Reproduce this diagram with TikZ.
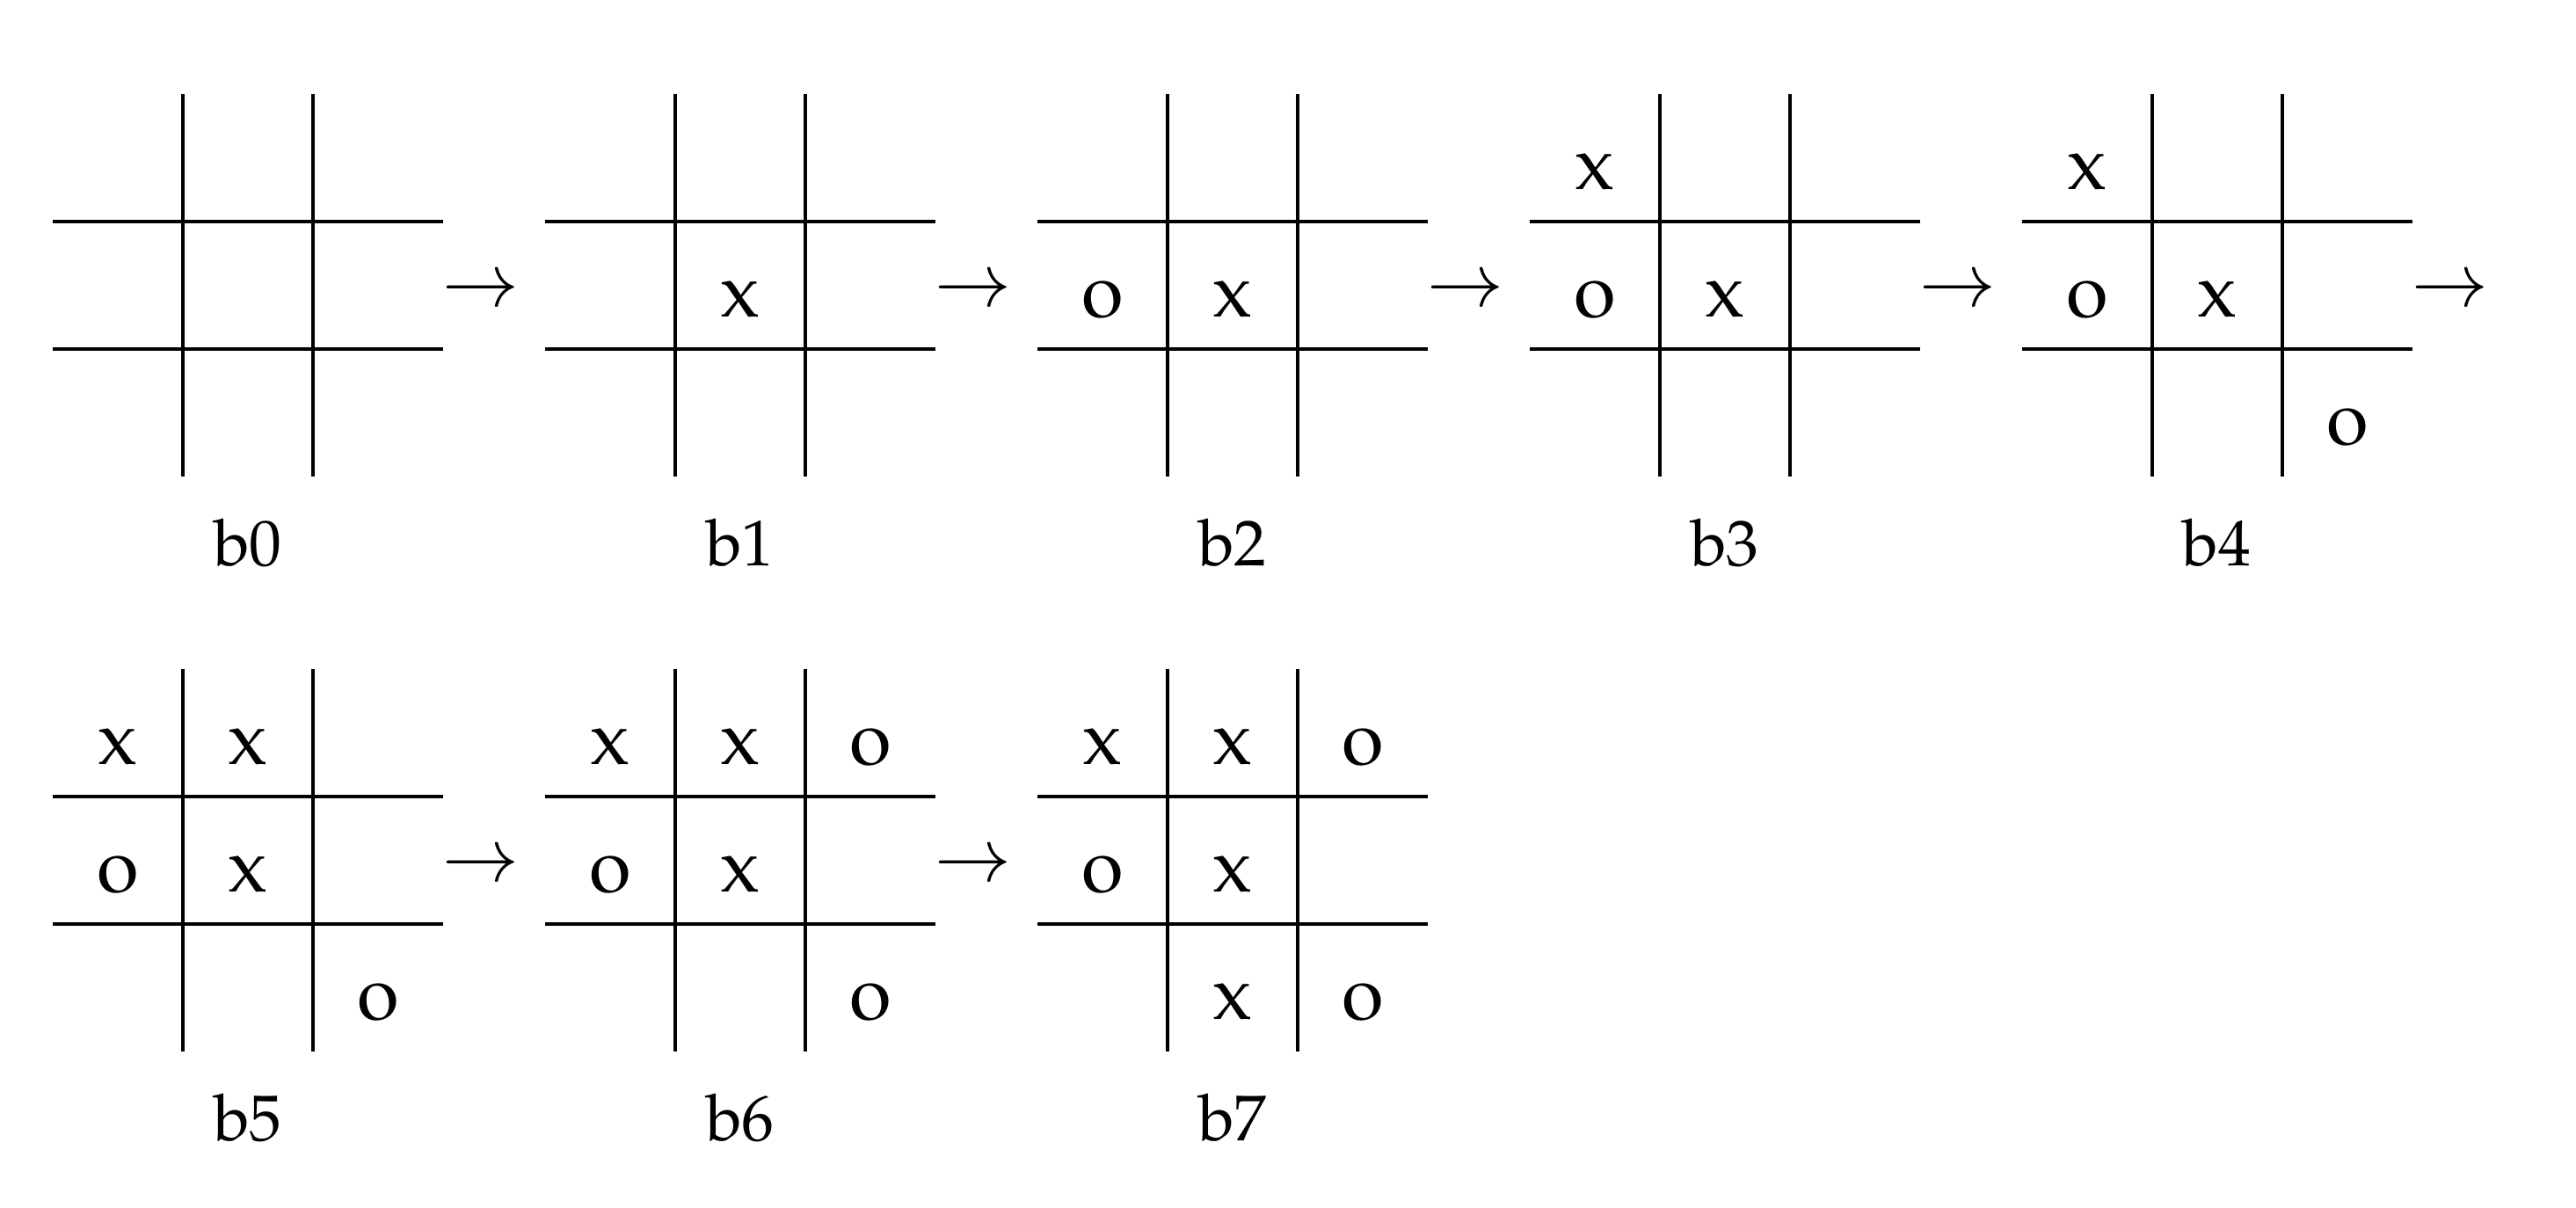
\documentclass[tikz,border=0pt]{standalone}
\usepackage{amssymb}
\usepackage{amsmath}
\usepackage[T1]{fontenc}
\usepackage{palatino}
\usepackage{tikz}

\begin{document}
\begin{tikzpicture}[x=0.6cm,y=0.588cm,
  cellmark/.style={anchor=base,inner sep=0pt},
  boardlabel/.style={anchor=base,inner sep=0pt,font=\fontsize{8.5}{10}\selectfont},
  movearrow/.style={anchor=center,inner sep=0pt}]
\useasboundingbox (-0.243cm,-3.373cm) rectangle (11.635cm,2.197cm);

% b0
\begin{scope}[xshift=0cm]
\draw (1,0) -- (1,3);
\draw (2,0) -- (2,3);
\draw (0,1) -- (3,1);
\draw (0,2) -- (3,2);
\node[boardlabel] (lab0) at (1.5,-0.7) {b0};
\node[movearrow] (arr0) at (3.29,1.44) {$\rightarrow$};
\end{scope}

% b1
\begin{scope}[xshift=2.27cm]
\draw (1,0) -- (1,3);
\draw (2,0) -- (2,3);
\draw (0,1) -- (3,1);
\draw (0,2) -- (3,2);
\node[cellmark] (b1mm) at (1.5,1.25) {x};
\node[boardlabel] (lab1) at (1.5,-0.7) {b1};
\node[movearrow] (arr1) at (3.29,1.44) {$\rightarrow$};
\end{scope}

% b2
\begin{scope}[xshift=4.54cm]
\draw (1,0) -- (1,3);
\draw (2,0) -- (2,3);
\draw (0,1) -- (3,1);
\draw (0,2) -- (3,2);
\node[cellmark] (b2ml) at (0.5,1.25) {o};
\node[cellmark] (b2mm) at (1.5,1.25) {x};
\node[boardlabel] (lab2) at (1.5,-0.7) {b2};
\node[movearrow] (arr2) at (3.29,1.44) {$\rightarrow$};
\end{scope}

% b3
\begin{scope}[xshift=6.81cm]
\draw (1,0) -- (1,3);
\draw (2,0) -- (2,3);
\draw (0,1) -- (3,1);
\draw (0,2) -- (3,2);
\node[cellmark] (b3tl) at (0.5,2.25) {x};
\node[cellmark] (b3ml) at (0.5,1.25) {o};
\node[cellmark] (b3mm) at (1.5,1.25) {x};
\node[boardlabel] (lab3) at (1.5,-0.7) {b3};
\node[movearrow] (arr3) at (3.29,1.44) {$\rightarrow$};
\end{scope}

% b4
\begin{scope}[xshift=9.08cm]
\draw (1,0) -- (1,3);
\draw (2,0) -- (2,3);
\draw (0,1) -- (3,1);
\draw (0,2) -- (3,2);
\node[cellmark] (b4tl) at (0.5,2.25) {x};
\node[cellmark] (b4ml) at (0.5,1.25) {o};
\node[cellmark] (b4mm) at (1.5,1.25) {x};
\node[cellmark] (b4br) at (2.5,0.25) {o};
\node[boardlabel] (lab4) at (1.5,-0.7) {b4};
\node[movearrow] (arr4) at (3.29,1.44) {$\rightarrow$};
\end{scope}

% b5
\begin{scope}[yshift=-2.651cm]
\draw (1,0) -- (1,3);
\draw (2,0) -- (2,3);
\draw (0,1) -- (3,1);
\draw (0,2) -- (3,2);
\node[cellmark] (b5tl) at (0.5,2.25) {x};
\node[cellmark] (b5tm) at (1.5,2.25) {x};
\node[cellmark] (b5ml) at (0.5,1.25) {o};
\node[cellmark] (b5mm) at (1.5,1.25) {x};
\node[cellmark] (b5br) at (2.5,0.25) {o};
\node[boardlabel] (lab5) at (1.5,-0.7) {b5};
\node[movearrow] (arr5) at (3.29,1.44) {$\rightarrow$};
\end{scope}

% b6
\begin{scope}[xshift=2.27cm,yshift=-2.651cm]
\draw (1,0) -- (1,3);
\draw (2,0) -- (2,3);
\draw (0,1) -- (3,1);
\draw (0,2) -- (3,2);
\node[cellmark] (b6tl) at (0.5,2.25) {x};
\node[cellmark] (b6tm) at (1.5,2.25) {x};
\node[cellmark] (b6tr) at (2.5,2.25) {o};
\node[cellmark] (b6ml) at (0.5,1.25) {o};
\node[cellmark] (b6mm) at (1.5,1.25) {x};
\node[cellmark] (b6br) at (2.5,0.25) {o};
\node[boardlabel] (lab6) at (1.5,-0.7) {b6};
\node[movearrow] (arr6) at (3.29,1.44) {$\rightarrow$};
\end{scope}

% b7
\begin{scope}[xshift=4.54cm,yshift=-2.651cm]
\draw (1,0) -- (1,3);
\draw (2,0) -- (2,3);
\draw (0,1) -- (3,1);
\draw (0,2) -- (3,2);
\node[cellmark] (b7tl) at (0.5,2.25) {x};
\node[cellmark] (b7tm) at (1.5,2.25) {x};
\node[cellmark] (b7tr) at (2.5,2.25) {o};
\node[cellmark] (b7ml) at (0.5,1.25) {o};
\node[cellmark] (b7mm) at (1.5,1.25) {x};
\node[cellmark] (b7bm) at (1.5,0.25) {x};
\node[cellmark] (b7br) at (2.5,0.25) {o};
\node[boardlabel] (lab7) at (1.5,-0.7) {b7};
\end{scope}

\end{tikzpicture}
\end{document}
